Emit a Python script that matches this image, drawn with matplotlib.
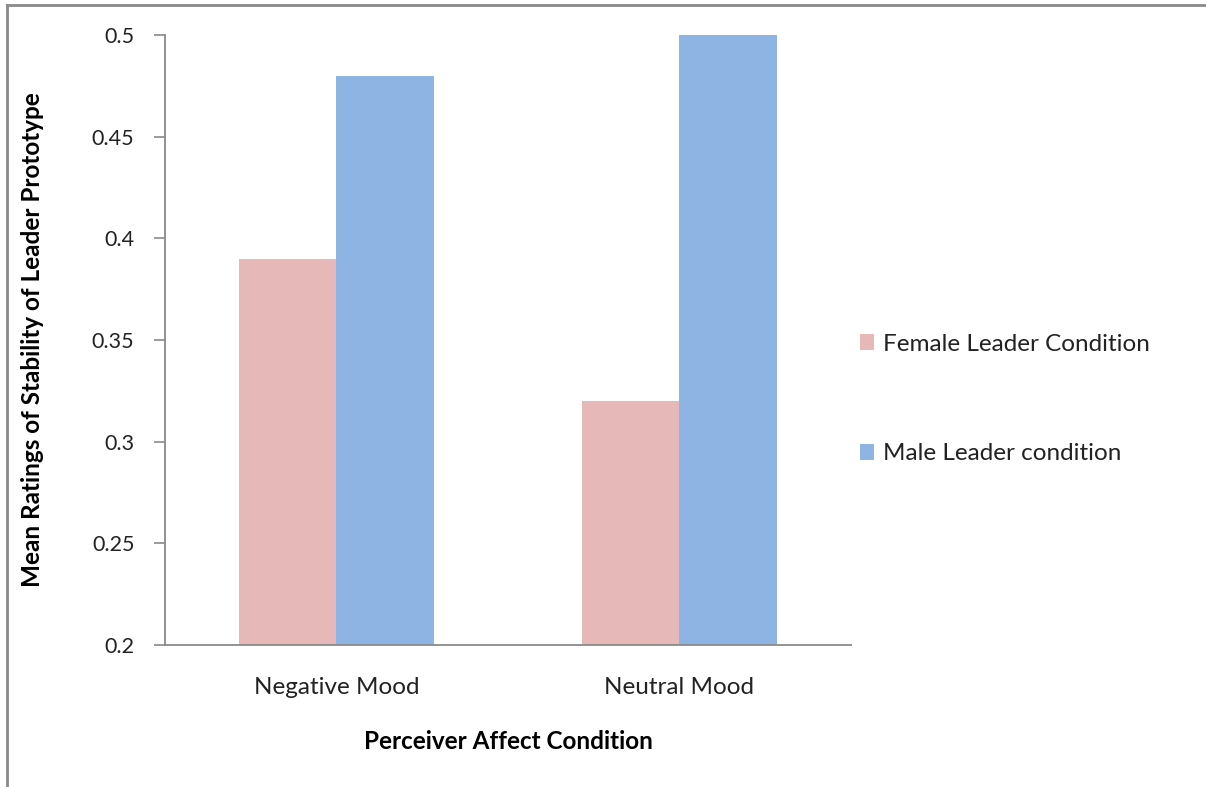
import matplotlib
matplotlib.use("Agg")
import matplotlib.pyplot as plt
import numpy as np
from matplotlib.patches import Patch
from matplotlib.lines import Line2D

categories = ["Negative Mood", "Neutral Mood"]
series_names = ["Female Leader Condition", "Male Leader condition"]
female_vals = [0.39, 0.32]
male_vals = [0.48, 0.50]
yticks = [0.2, 0.25, 0.3, 0.35, 0.4, 0.45, 0.5]
ytick_labels = ["0.2", "0.25", "0.3", "0.35", "0.4", "0.45", "0.5"]

colors = ["#E6B9B8", "#8EB4E3"]

plt.rcParams['font.family'] = ['Lato', 'DejaVu Sans']

W, H = 1206, 787
fig = plt.figure(figsize=(W/100, H/100), dpi=100)
ax = fig.add_axes([165/W, 1-645/H, (851-165)/W, (645-35)/H])

x = np.arange(len(categories))
bw = 0.283
ax.bar(x - bw/2, female_vals, bw, bottom=0, color=colors[0], label=series_names[0], zorder=2)
ax.bar(x + bw/2, male_vals, bw, bottom=0, color=colors[1], label=series_names[1], zorder=2)

ax.set_xlim(-0.5, 1.5)
ax.set_ylim(0.2, 0.5)
ax.set_yticks(yticks)
ax.set_yticklabels(ytick_labels, fontsize=15.5, color="#222222")
ax.set_xticks(x)
ax.set_xticklabels(categories, fontsize=17.5, color="#222222")
ax.tick_params(axis='x', length=0, pad=23)
ax.tick_params(axis='y', length=8, width=1.2, color="#8a8a8a", pad=14)

for s in ["top", "right"]:
    ax.spines[s].set_visible(False)
for s in ["left", "bottom"]:
    ax.spines[s].set_color("#8a8a8a")
    ax.spines[s].set_linewidth(1.3)

ax.set_xlabel("Perceiver Affect Condition", fontsize=17.5, fontweight="bold")
ax.set_ylabel("Mean Ratings of Stability of Leader Prototype", fontsize=17.5, fontweight="bold")
ax.yaxis.set_label_coords(-121/686, 0.5)
ax.xaxis.set_label_coords((508-165)/686, -(730-645)/610)

handles = [Patch(facecolor=colors[0]), Patch(facecolor=colors[1])]
leg = fig.legend(handles, series_names, loc="upper left", bbox_to_anchor=(850/W, 1-324/H),
                 frameon=False, fontsize=17.5, handlelength=0.6, handleheight=0.6,
                 handletextpad=0.35, labelspacing=3.65, borderaxespad=0)
for t in leg.get_texts():
    t.set_color("#222222")

# figure border lines (left and top)
fig.add_artist(Line2D([7/W, 7/W], [0, 1-5/H], transform=fig.transFigure, color="#8a8a8a", lw=2))
fig.add_artist(Line2D([7/W, 1], [1-5/H, 1-5/H], transform=fig.transFigure, color="#8a8a8a", lw=2))

fig.savefig("out.png", dpi=100)
